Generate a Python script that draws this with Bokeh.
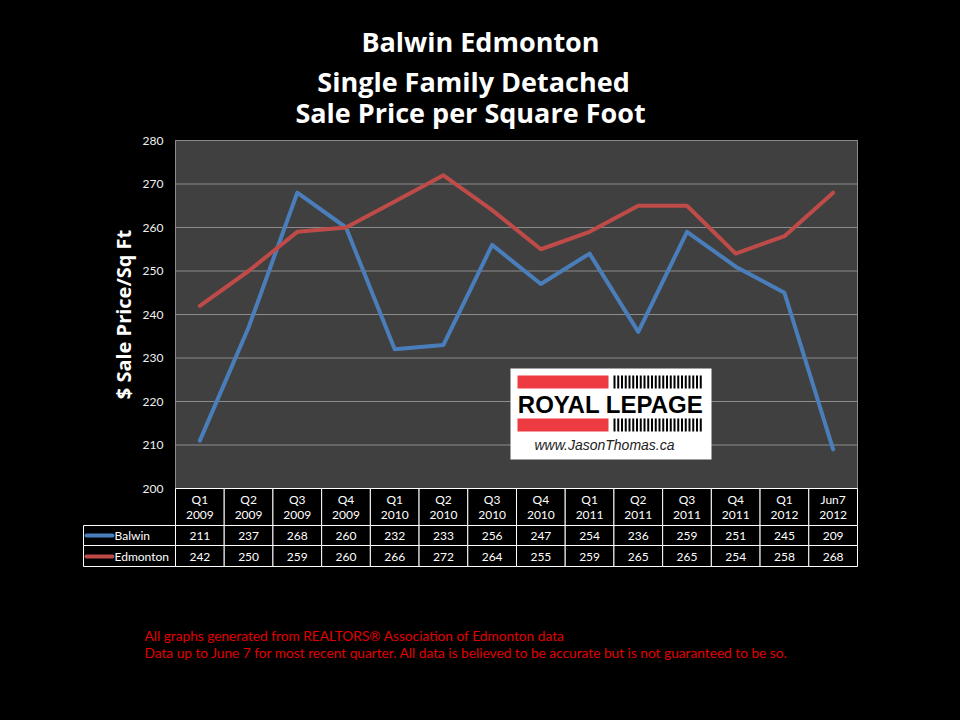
from bokeh.plotting import figure
from bokeh.models import Range1d, FixedTicker, GlobalInlineStyleSheet
from bokeh.embed import file_html
from bokeh.resources import INLINE
from bokeh.core.properties import value

# ---------------- data ----------------
title_lines = ["Balwin Edmonton", "Single Family Detached", "Sale Price per Square Foot"]
y_axis_title = "$ Sale Price/Sq Ft"
periods = ["Q1", "Q2", "Q3", "Q4", "Q1", "Q2", "Q3", "Q4", "Q1", "Q2", "Q3", "Q4", "Q1", "Jun7"]
years = ["2009", "2009", "2009", "2009", "2010", "2010", "2010", "2010",
         "2011", "2011", "2011", "2011", "2012", "2012"]
series_names = ["Balwin", "Edmonton"]
balwin = [211, 237, 268, 260, 232, 233, 256, 247, 254, 236, 259, 251, 245, 209]
edmonton = [242, 250, 259, 260, 266, 272, 264, 255, 259, 265, 265, 254, 258, 268]
y_ticks = [200, 210, 220, 230, 240, 250, 260, 270, 280]
footnotes = ["All graphs generated from REALTORS\u00ae Association of Edmonton data",
             "Data up to June 7 for most recent quarter. All data is believed to be accurate but is not guaranteed to be so."]
logo_name = "ROYAL LEPAGE"
logo_url = "www.JasonThomas.ca"

# ---------------- style / layout ----------------
BLUE = "#4A7EBB"
RED = "#BE4B48"
FONT = "Lato"
TFONT = "Open Sans"
GRID = "#8C8C8C"
PLOT_BG = "#404040"
FOOT_RED = "#E00000"
LOGO_RED = "#EE3B42"

W, H = 960, 720
PL, PR, PT, PB = 175, 857, 140, 488          # plot area in page pixels
FL, FR, FT, FB = 81, 879, 6, 700             # drawing frame in page pixels
N = len(periods)
CW = (PR - PL) / N
PY = (PB - PT) / (y_ticks[-1] - y_ticks[0])


def dx(px):
    return (px - PL) / CW


def dy(py):
    return y_ticks[0] + (PB - py) / PY


p = figure(width=W, height=H, toolbar_location=None, output_backend="svg",
           x_range=Range1d(dx(FL), dx(FR)), y_range=Range1d(dy(FB), dy(FT)),
           min_border_left=FL, min_border_right=W - FR,
           min_border_top=FT, min_border_bottom=H - FB,
           background_fill_color="black", border_fill_color="black",
           outline_line_color=None, x_axis_location=None)
p.stylesheets = [GlobalInlineStyleSheet(
    css="html, body { background-color: #000000; margin: 0; padding: 0; overflow: hidden; }")]
p.grid.visible = False

# y axis, pinned to the left edge of the plot area
p.yaxis.fixed_location = 0
p.yaxis.bounds = (y_ticks[0], y_ticks[-1])
p.yaxis.ticker = FixedTicker(ticks=y_ticks)
p.yaxis.axis_line_color = None
p.yaxis.major_tick_line_color = None
p.yaxis.minor_tick_line_color = None
p.yaxis.major_label_standoff = 6
p.yaxis.major_label_text_color = "#F0F0F0"
p.yaxis.major_label_text_font = FONT
p.yaxis.major_label_text_font_size = "12px"
p.yaxis.axis_label = y_axis_title
p.yaxis.axis_label_text_color = "white"
p.yaxis.axis_label_text_font = TFONT
p.yaxis.axis_label_text_font_style = "bold"
p.yaxis.axis_label_text_font_size = "20px"
p.yaxis.axis_label_standoff = 3

# titles
p.text(x=[dx(480), dx(473), dx(470)], y=[dy(41), dy(81), dy(112)], text=title_lines,
       text_font=value(TFONT), text_font_style="bold", text_font_size="27px",
       text_color="white", text_align="center", text_baseline="middle")

# plot area
p.quad(left=[0], right=[N], bottom=[y_ticks[0]], top=[y_ticks[-1]],
       fill_color=PLOT_BG, line_color=None)
p.segment(x0=[0] * len(y_ticks), x1=[N] * len(y_ticks), y0=y_ticks, y1=y_ticks,
          line_color=GRID, line_width=1)

xs = [i + 0.5 for i in range(N)]

# logo (decoration)
p.quad(left=[dx(510)], right=[dx(711)], top=[dy(368)], bottom=[dy(459)],
       fill_color="white", line_color=None)
p.quad(left=[dx(517), dx(517)], right=[dx(608), dx(608)],
       top=[dy(375), dy(418)], bottom=[dy(388), dy(431)],
       fill_color=LOGO_RED, line_color=None)
s_left, s_right, s_top, s_bot = [], [], [], []
for k in range(24):
    for (t, b_) in [(375, 388), (418, 431)]:
        x0 = 613 + k * 3.75
        s_left.append(dx(x0))
        s_right.append(dx(x0 + 2))
        s_top.append(dy(t))
        s_bot.append(dy(b_))
p.quad(left=s_left, right=s_right, top=s_top, bottom=s_bot,
       fill_color="black", line_color=None)
p.text(x=[dx(610)], y=[dy(404)], text=[logo_name], text_font=value("Liberation Sans"),
       text_font_style="bold", text_font_size="24px", text_color="black",
       text_align="center", text_baseline="middle")
p.text(x=[dx(604)], y=[dy(444)], text=[logo_url], text_font=value("Liberation Sans"),
       text_font_style="italic", text_font_size="14px", text_color="#222222",
       text_align="center", text_baseline="middle")

# series lines
p.line(xs, balwin, line_width=4, line_color=BLUE, line_join="round", line_cap="round")
p.line(xs, edmonton, line_width=4, line_color=RED, line_join="round", line_cap="round")

# plot-area outline (left/right/top)
p.segment(x0=[0, N, 0], x1=[0, N, N], y0=[y_ticks[0], y_ticks[0], y_ticks[-1]],
          y1=[y_ticks[-1], y_ticks[-1], y_ticks[-1]], line_color=GRID, line_width=1)

# ---------------- data table ----------------
rows = [(488, 525), (525, 545), (545, 566)]
for (t, bt) in rows:
    p.quad(left=list(range(N)), right=[i + 1 for i in range(N)],
           top=[dy(t)] * N, bottom=[dy(bt)] * N,
           fill_color="black", line_color="white", line_width=1)
for (t, bt) in rows[1:]:
    p.quad(left=[dx(83)], right=[0], top=[dy(t)], bottom=[dy(bt)],
           fill_color="black", line_color="white", line_width=1)

tk = dict(text_font=value(FONT), text_font_size="12px", text_color="white",
          text_align="center", text_baseline="middle")
p.text(x=xs, y=[dy(499)] * N, text=periods, **tk)
p.text(x=xs, y=[dy(514)] * N, text=years, **tk)
p.text(x=xs, y=[dy(535)] * N, text=[str(v) for v in balwin], **tk)
p.text(x=xs, y=[dy(556)] * N, text=[str(v) for v in edmonton], **tk)

for name, col, yy in [(series_names[0], BLUE, 535), (series_names[1], RED, 556)]:
    p.segment(x0=[dx(86)], x1=[dx(112)], y0=[dy(yy)], y1=[dy(yy)], line_color=col,
              line_width=4, line_cap="round")
    p.text(x=[dx(114)], y=[dy(yy)], text=[name], text_font=value(FONT), text_font_size="12px",
           text_color="white", text_align="left", text_baseline="middle")

# footnotes
p.text(x=[dx(144)] * 2, y=[dy(635), dy(652)], text=footnotes, text_font=value(FONT),
       text_font_size="13.7px", text_color=FOOT_RED, text_align="left", text_baseline="middle")

open("out.html", "w", encoding="utf-8").write(file_html(p, INLINE))
